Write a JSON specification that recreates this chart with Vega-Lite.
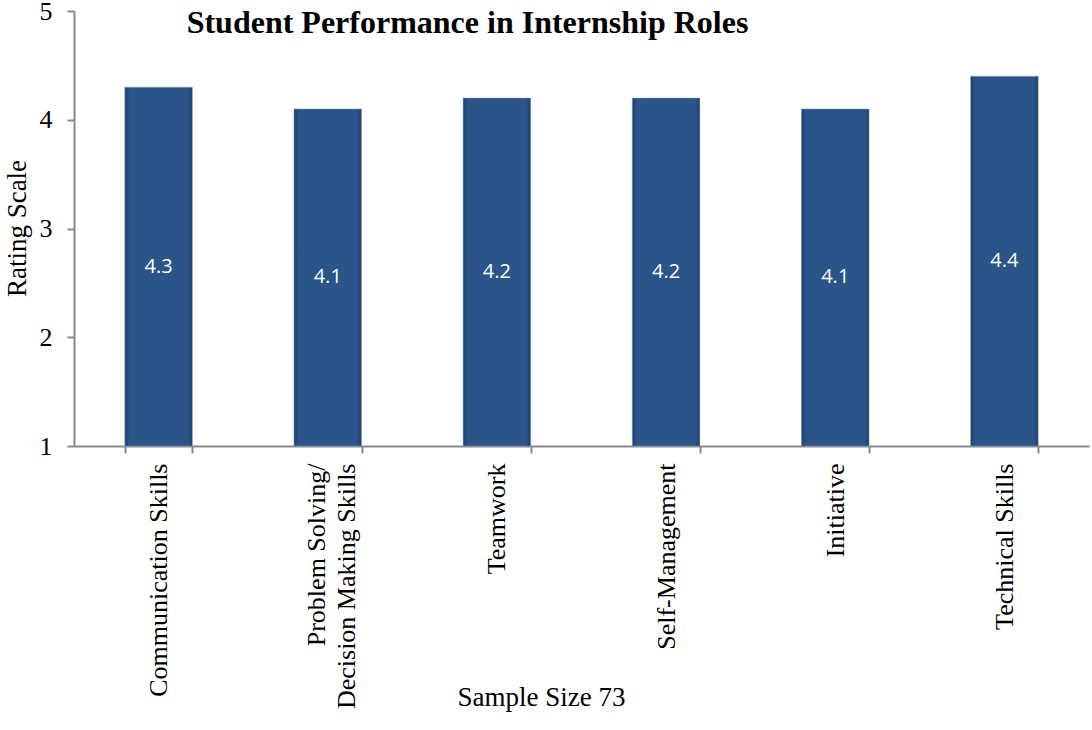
{
  "$schema": "https://vega.github.io/schema/vega-lite/v6.json",
  "autosize": "none",
  "padding": {"left": 74, "top": 11, "right": 3, "bottom": 284},
  "width": 1015,
  "height": 435,
  "background": "white",
  "title": {
    "text": "Student Performance in Internship Roles",
    "font": "Liberation Serif",
    "fontSize": 32,
    "fontWeight": "bold",
    "color": "#000000",
    "anchor": "middle",
    "frame": "group",
    "baseline": "alphabetic",
    "offset": -67,
    "dx": -114
  },
  "data": {
    "values": [
      {"skill": "Communication Skills", "rating": 4.3},
      {"skill": "Problem Solving/Decision Making Skills", "rating": 4.1},
      {"skill": "Teamwork", "rating": 4.2},
      {"skill": "Self-Management", "rating": 4.2},
      {"skill": "Initiative", "rating": 4.1},
      {"skill": "Technical Skills", "rating": 4.4}
    ]
  },
  "encoding": {
    "x": {
      "field": "skill",
      "type": "nominal",
      "sort": null,
      "scale": {"paddingInner": 0.6, "paddingOuter": 0.3},
      "axis": {
        "title": "Sample Size 73",
        "titleFont": "Liberation Serif",
        "titleFontSize": 27,
        "titleFontWeight": "normal",
        "titleColor": "#000000",
        "titleX": 467,
        "titleY": 251,
        "titleBaseline": "middle",
        "titleAlign": "center",
        "labelFont": "Liberation Serif",
        "labelFontSize": 26,
        "labelColor": "#000000",
        "labelAngle": -90,
        "labelAlign": "right",
        "labelBaseline": "middle",
        "labelPadding": 10,
        "labelLimit": 400,
        "labelLineHeight": 30,
        "labelOffset": {"condition": {"test": "datum.value == 'Problem Solving/Decision Making Skills'", "value": -11}, "value": 0},
        "labelExpr": "datum.value == 'Problem Solving/Decision Making Skills' ? ['Problem Solving/', 'Decision Making Skills'] : datum.value",
        "domainColor": "#898989",
        "domainWidth": 2,
        "tickColor": "#898989",
        "tickWidth": 2,
        "tickSize": 7,
        "tickBand": "extent",
        "grid": false
      }
    }
  },
  "layer": [
    {
      "mark": {
        "type": "bar",
        "color": {
          "gradient": "linear",
          "x1": 0, "y1": 0, "x2": 1, "y2": 0,
          "stops": [
            {"offset": 0, "color": "#1d416f"},
            {"offset": 0.07, "color": "#2b5489"},
            {"offset": 0.93, "color": "#2b5489"},
            {"offset": 1, "color": "#1d416f"}
          ]
        },
        "stroke": "#9aa6b6",
        "strokeWidth": 0.8,
        "strokeOpacity": 0.6
      },
      "encoding": {
        "y": {
          "field": "rating",
          "type": "quantitative",
          "scale": {"domain": [1, 5], "zero": false, "nice": false},
          "axis": {
            "title": "Rating Scale",
            "titleFont": "Liberation Serif",
            "titleFontSize": 27,
            "titleFontWeight": "normal",
            "titleColor": "#000000",
            "titleAngle": -90,
            "titleX": -57,
            "titleY": 217,
            "titleBaseline": "middle",
            "titleAlign": "center",
            "values": [1, 2, 3, 4, 5],
            "format": "d",
            "labelFont": "Liberation Serif",
            "labelFontSize": 26,
            "labelColor": "#000000",
            "labelPadding": 15,
            "labelFlush": false,
            "domainColor": "#898989",
            "domainWidth": 2,
            "tickColor": "#898989",
            "tickWidth": 2,
            "tickSize": 7,
            "grid": false
          }
        },
        "y2": {"datum": 1}
      }
    },
    {
      "transform": [{"calculate": "(datum.rating + 1) / 2", "as": "mid"}],
      "mark": {"type": "text", "color": "white", "font": "Open Sans", "fontSize": 20, "baseline": "middle", "align": "center"},
      "encoding": {
        "y": {"field": "mid", "type": "quantitative", "scale": {"domain": [1, 5], "zero": false, "nice": false}},
        "text": {"field": "rating", "type": "quantitative", "format": ".1f"}
      }
    }
  ],
  "config": {"view": {"stroke": null}}
}
